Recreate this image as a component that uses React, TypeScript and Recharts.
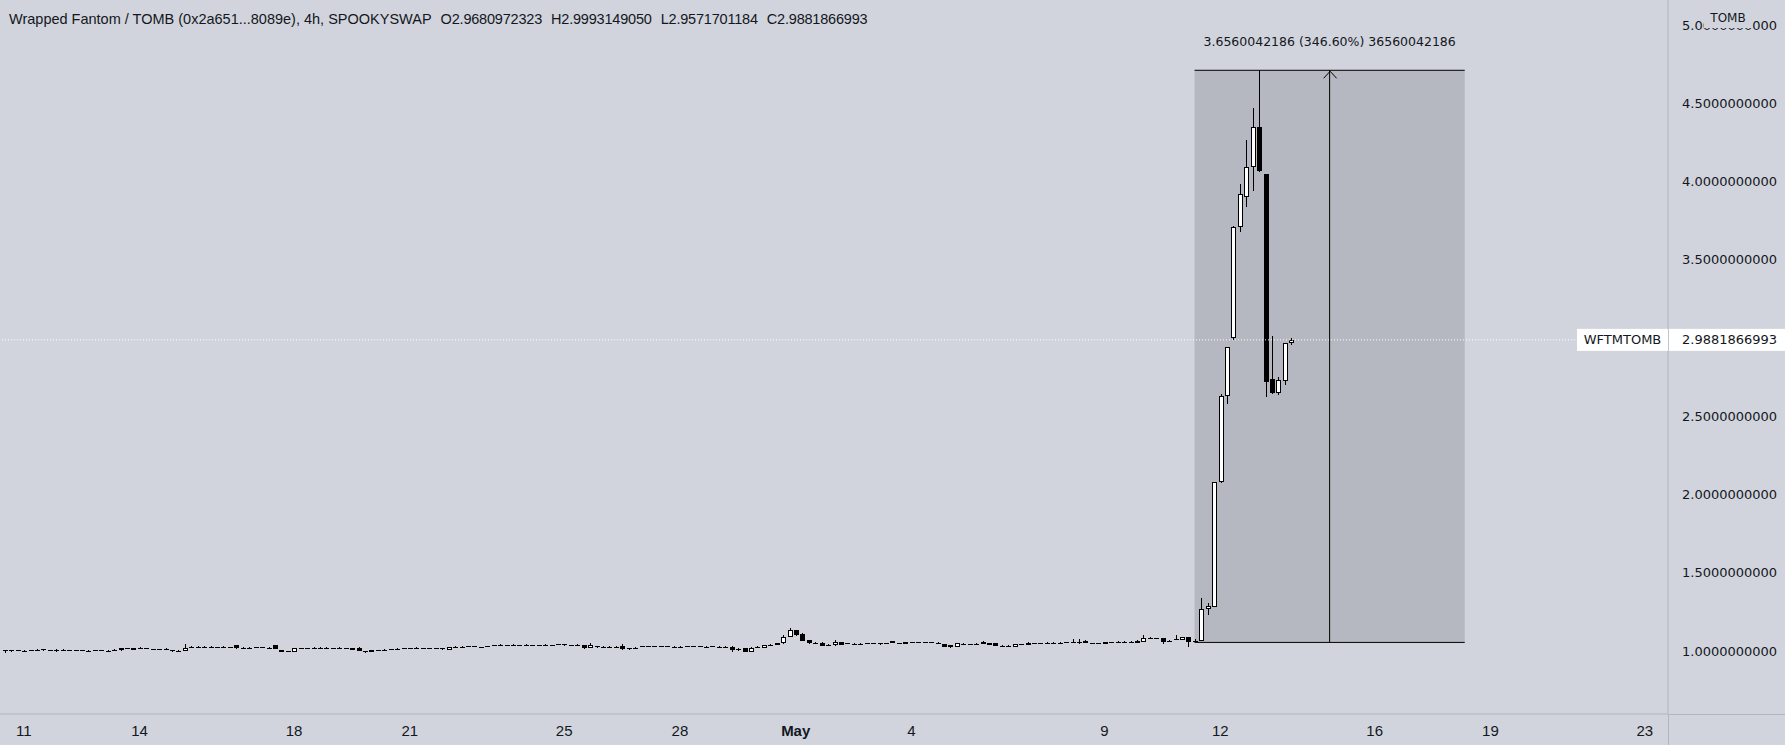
import React from 'react'
import { ComposedChart, Bar, XAxis, YAxis, ReferenceArea, ReferenceLine, ReferenceDot } from 'recharts'

const symbolTitle = 'Wrapped Fantom / TOMB (0x2a651...8089e), 4h, SPOOKYSWAP'
const legendLetters = ['O', 'H', 'L', 'C']
const legendValues = ['2.9680972323', '2.9993149050', '2.9571701184', '2.9881866993']
const lastClose = 2.9881866993
const quoteSymbol = 'TOMB'
const pairSymbol = 'WFTMTOMB'

// 4h candles [open, high, low, close], first one opens Apr 10 12:00
const aprilCandles: number[][] = [
  // Apr 10
  [1.006, 1.007, 0.985, 1.0], [1.002, 1.004, 0.996, 1.004], [1.006, 1.007, 0.999, 1.001],
  // Apr 11
  [1.003, 1.006, 1.0, 1.001], [1.004, 1.006, 1.0, 1.002], [1.003, 1.011, 1.002, 1.006], [1.011, 1.013, 1.002, 1.004], [1.004, 1.006, 1.0, 1.002], [1.002, 1.011, 0.994, 1.004],
  // Apr 12
  [1.003, 1.01, 1.002, 1.005], [1.005, 1.006, 1.001, 1.002], [1.002, 1.009, 1.001, 1.005], [1.006, 1.007, 1.001, 1.002], [1.003, 1.005, 1.0, 1.001], [1.001, 1.009, 1.0, 1.004],
  // Apr 13
  [1.005, 1.006, 1.0, 1.001], [1.002, 1.004, 0.999, 1.0], [1.001, 1.01, 1.0, 1.005], [1.004, 1.019, 1.003, 1.016], [1.016, 1.018, 1.01, 1.012], [1.007, 1.022, 1.006, 1.02],
  // Apr 14
  [1.016, 1.023, 1.014, 1.018], [1.018, 1.019, 1.012, 1.013], [1.013, 1.015, 1.008, 1.009], [1.01, 1.012, 1.006, 1.008], [1.008, 1.016, 1.007, 1.011], [1.006, 1.008, 0.996, 0.999],
  // Apr 15
  [0.998, 1.006, 0.996, 1.001], [1.001, 1.045, 1.0, 1.021], [1.021, 1.032, 1.02, 1.026], [1.027, 1.029, 1.022, 1.024], [1.024, 1.031, 1.023, 1.027], [1.028, 1.029, 1.023, 1.025],
  // Apr 16
  [1.025, 1.028, 1.024, 1.027], [1.028, 1.029, 1.024, 1.025], [1.025, 1.028, 1.024, 1.027], [1.038, 1.04, 1.015, 1.017], [1.02, 1.024, 1.016, 1.019], [1.019, 1.027, 1.018, 1.022],
  // Apr 17
  [1.022, 1.028, 1.021, 1.024], [1.025, 1.026, 1.019, 1.021], [1.022, 1.024, 1.017, 1.019], [1.036, 1.038, 1.011, 1.013], [1.004, 1.006, 0.994, 0.996], [0.998, 1.0, 0.993, 0.995],
  // Apr 18
  [0.996, 1.018, 0.995, 1.017], [1.02, 1.022, 1.015, 1.017], [1.017, 1.021, 1.016, 1.019], [1.018, 1.026, 1.017, 1.021], [1.02, 1.027, 1.019, 1.022], [1.022, 1.023, 1.017, 1.018],
  // Apr 19
  [1.019, 1.02, 1.015, 1.016], [1.016, 1.024, 1.015, 1.019], [1.02, 1.021, 1.016, 1.017], [1.007, 1.022, 1.006, 1.021], [1.021, 1.023, 1.001, 1.002], [1.002, 1.003, 0.985, 0.991],
  // Apr 20
  [0.993, 1.008, 0.992, 1.004], [1.006, 1.007, 1.001, 1.003], [1.003, 1.012, 1.002, 1.007], [1.012, 1.014, 1.008, 1.01], [1.01, 1.018, 1.009, 1.013], [1.014, 1.022, 1.013, 1.017],
  // Apr 21
  [1.017, 1.019, 1.015, 1.018], [1.017, 1.024, 1.016, 1.019], [1.02, 1.021, 1.015, 1.016], [1.017, 1.018, 1.012, 1.014], [1.014, 1.021, 1.013, 1.017], [1.018, 1.019, 1.008, 1.012],
  // Apr 22
  [1.009, 1.025, 1.008, 1.024], [1.024, 1.033, 1.023, 1.027], [1.027, 1.029, 1.025, 1.028], [1.027, 1.034, 1.026, 1.029], [1.03, 1.031, 1.025, 1.026], [1.027, 1.028, 1.023, 1.024],
  // Apr 23
  [1.025, 1.033, 1.024, 1.029], [1.036, 1.038, 1.032, 1.034], [1.034, 1.042, 1.033, 1.038], [1.038, 1.04, 1.036, 1.039], [1.041, 1.042, 1.036, 1.037], [1.038, 1.039, 1.034, 1.035],
  // Apr 24
  [1.035, 1.043, 1.034, 1.039], [1.04, 1.041, 1.035, 1.036], [1.037, 1.04, 1.036, 1.039], [1.04, 1.042, 1.036, 1.037], [1.037, 1.041, 1.036, 1.04], [1.039, 1.047, 1.038, 1.042],
  // Apr 25
  [1.045, 1.046, 1.035, 1.036], [1.037, 1.04, 1.031, 1.033], [1.033, 1.046, 1.032, 1.04], [1.038, 1.04, 1.015, 1.017], [1.017, 1.049, 1.016, 1.038], [1.031, 1.032, 1.022, 1.028],
  // Apr 26
  [1.028, 1.029, 1.023, 1.025], [1.025, 1.029, 1.024, 1.027], [1.026, 1.033, 1.025, 1.028], [1.032, 1.045, 1.009, 1.011], [1.012, 1.022, 1.008, 1.017], [1.017, 1.026, 1.016, 1.02],
  // Apr 27
  [1.03, 1.031, 1.025, 1.027], [1.027, 1.035, 1.026, 1.03], [1.031, 1.032, 1.026, 1.027], [1.027, 1.031, 1.026, 1.029], [1.03, 1.031, 1.026, 1.027], [1.028, 1.029, 1.024, 1.025],
  // Apr 28
  [1.025, 1.033, 1.024, 1.028], [1.029, 1.03, 1.025, 1.026], [1.026, 1.034, 1.025, 1.029], [1.03, 1.031, 1.025, 1.026], [1.027, 1.029, 1.02, 1.028], [1.029, 1.03, 1.024, 1.025],
  // Apr 29
  [1.025, 1.029, 1.024, 1.027], [1.028, 1.029, 1.024, 1.025], [1.027, 1.029, 0.996, 1.006], [1.006, 1.016, 1.002, 1.011], [1.017, 1.018, 0.994, 0.996], [0.996, 1.023, 0.995, 1.021],
  // Apr 30
  [1.021, 1.034, 1.02, 1.027], [1.021, 1.038, 1.02, 1.036], [1.036, 1.045, 1.031, 1.038], [1.038, 1.05, 1.037, 1.049], [1.049, 1.102, 1.047, 1.088], [1.091, 1.147, 1.089, 1.134],
]

const mayCandles: number[][] = [
  // May 1
  [1.134, 1.137, 1.096, 1.102], [1.109, 1.117, 1.064, 1.066], [1.07, 1.072, 1.047, 1.049], [1.05, 1.06, 1.046, 1.053], [1.053, 1.055, 1.032, 1.034], [1.034, 1.044, 1.03, 1.038],
  // May 2
  [1.036, 1.07, 1.035, 1.058], [1.056, 1.058, 1.038, 1.04], [1.05, 1.051, 1.045, 1.046], [1.047, 1.048, 1.042, 1.044], [1.044, 1.052, 1.043, 1.047], [1.048, 1.049, 1.043, 1.045],
  // May 3
  [1.049, 1.05, 1.042, 1.043], [1.046, 1.049, 1.04, 1.048], [1.048, 1.051, 1.046, 1.049], [1.062, 1.063, 1.048, 1.049], [1.05, 1.052, 1.045, 1.046], [1.043, 1.059, 1.042, 1.058],
  // May 4
  [1.056, 1.058, 1.054, 1.057], [1.056, 1.058, 1.05, 1.057], [1.057, 1.059, 1.055, 1.056], [1.055, 1.057, 1.049, 1.056], [1.054, 1.056, 1.042, 1.043], [1.045, 1.046, 1.025, 1.027],
  // May 5
  [1.038, 1.04, 1.022, 1.024], [1.027, 1.05, 1.026, 1.049], [1.044, 1.052, 1.043, 1.046], [1.045, 1.047, 1.038, 1.044], [1.043, 1.05, 1.042, 1.045], [1.056, 1.064, 1.042, 1.043],
  // May 6
  [1.049, 1.051, 1.037, 1.038], [1.049, 1.05, 1.031, 1.032], [1.031, 1.039, 1.03, 1.033], [1.032, 1.04, 1.031, 1.034], [1.024, 1.046, 1.023, 1.045], [1.045, 1.047, 1.043, 1.046],
  // May 7
  [1.053, 1.055, 1.039, 1.04], [1.05, 1.052, 1.043, 1.045], [1.046, 1.054, 1.045, 1.049], [1.048, 1.055, 1.047, 1.05], [1.049, 1.056, 1.048, 1.051], [1.053, 1.055, 1.042, 1.043],
  // May 8
  [1.058, 1.06, 1.048, 1.049], [1.055, 1.075, 1.054, 1.059], [1.058, 1.075, 1.043, 1.06], [1.066, 1.068, 1.048, 1.049], [1.048, 1.051, 1.047, 1.05], [1.049, 1.051, 1.043, 1.05],
  // May 9
  [1.056, 1.058, 1.042, 1.043], [1.058, 1.06, 1.048, 1.049], [1.052, 1.061, 1.051, 1.056], [1.055, 1.063, 1.054, 1.058], [1.056, 1.064, 1.055, 1.059], [1.066, 1.068, 1.048, 1.05],
  // May 10
  [1.056, 1.102, 1.055, 1.081], [1.08, 1.088, 1.074, 1.082], [1.082, 1.084, 1.08, 1.081], [1.081, 1.083, 1.043, 1.059], [1.062, 1.07, 1.061, 1.066], [1.071, 1.102, 1.07, 1.075],
  // May 11
  [1.072, 1.09, 1.071, 1.088], [1.088, 1.09, 1.027, 1.059], [1.062, 1.075, 1.061, 1.066], [1.066, 1.339, 1.062, 1.266], [1.266, 1.309, 1.23, 1.286], [1.283, 2.08, 1.28, 2.078],
  // May 12
  [2.078, 2.642, 2.075, 2.629], [2.629, 2.945, 2.578, 2.941], [2.998, 3.715, 2.99, 3.709], [3.707, 3.982, 3.679, 3.918], [3.903, 4.265, 3.839, 4.091], [4.091, 4.468, 3.941, 4.346],
  // May 13
  [4.346, 4.7108, 4.06, 4.069], [4.046, 4.05, 2.625, 2.721], [2.736, 3.013, 2.645, 2.65], [2.65, 2.753, 2.636, 2.732], [2.727, 2.97, 2.7, 2.966], [2.9681, 2.9993, 2.9572, 2.9882],
]

// candle index of each day's 00:00 bar
const dayTickIdx = [3, 21, 45, 63, 87, 105, 123, 141, 171, 189, 213, 231, 255]
const dayTickLabels = ['11', '14', '18', '21', '25', '28', 'May', '4', '9', '12', '16', '19', '23']
// 3.0 sits under the last-price tag, so it is not shown
const priceTicks = [1, 1.5, 2, 2.5, 3.5, 4, 4.5, 5]

// price range measurement: from / to candle index and price
const measureIdx = [185, 227]
const measurePrice = [1.0548, 4.7108]
const measureText = '3.6560042186 (346.60%) 36560042186'

const xDomain = [-0.7, 258.6]
const yDomain = [0.5974, 5.16]

const BG = '#d1d4dc'
const LINE = '#b2b5be'
const TEXT = '#131722'
const SANS = 'Liberation Sans, Arial, sans-serif'
const AXIS_FONT = 'DejaVu Sans, Verdana, sans-serif'

const chartData = [...aprilCandles, ...mayCandles].map(([open, high, low, close], idx) => ({
  idx,
  open,
  high,
  low,
  close,
  range: [low, high],
}))

function Candle(props: any) {
  const { x, y, width, height, payload } = props
  if (!payload) return null
  const { open, high, low, close } = payload
  const top = Math.min(y, y + height)
  const span = Math.abs(height)
  const toY = (v: number) => (high === low ? top : top + ((high - v) / (high - low)) * span)
  const cx = Math.round(x + width / 2)
  const yo = toY(open)
  const yc = toY(close)
  const r1 = Math.round(Math.min(yo, yc))
  const r2 = Math.round(Math.max(yo, yc))
  const up = close >= open
  return (
    <g>
      <line x1={cx + 0.5} x2={cx + 0.5} y1={Math.round(top)} y2={Math.round(top + span)} stroke="#000" strokeWidth={1} />
      {r2 - r1 < 2 ? (
        <rect x={cx - 2} y={r1} width={5} height={Math.max(r2 - r1, 1)} fill="#000" />
      ) : (
        <rect x={cx - 1.5} y={r1 + 0.5} width={4} height={r2 - r1 - 1} fill={up ? '#fff' : '#000'} stroke="#000" strokeWidth={1} />
      )}
    </g>
  )
}

function DayTick(props: any) {
  const { x, y, payload } = props
  const k = dayTickIdx.indexOf(payload.value)
  const label = k >= 0 ? dayTickLabels[k] : ''
  return (
    <text x={x} y={y} dy={22} textAnchor="middle" fill={TEXT} fontSize={15} fontFamily={SANS} fontWeight={label === 'May' ? 700 : 400}>
      {label}
    </text>
  )
}

function PriceTag(props: any) {
  const { cx, cy } = props
  return (
    <g>
      <rect x={cx - 91} y={cy - 11} width={91} height={22} fill="#fff" />
      <text x={cx - 45.5} y={cy} dy={4.6} textAnchor="middle" fill={TEXT} fontSize={13} fontFamily={AXIS_FONT}>
        {pairSymbol}
      </text>
      <rect x={cx + 1} y={cy - 11} width={116} height={22} fill="#fff" />
      <text x={cx + 14} y={cy} dy={4.6} fill={TEXT} fontSize={13} fontFamily={AXIS_FONT}>
        {lastClose.toFixed(10)}
      </text>
    </g>
  )
}

function ArrowHead(props: any) {
  const { cx, cy } = props
  return <path d={`M${cx - 6},${cy + 8} L${cx + 0.5},${cy + 1} L${cx + 7},${cy + 8}`} fill="none" stroke="#000" strokeWidth={1} />
}

export default function App() {
  return (
    <div style={{ position: 'absolute', left: 0, top: 0, width: 1785, height: 745, background: BG, overflow: 'hidden' }}>
      <ComposedChart width={1785} height={745} data={chartData} margin={{ top: 0, right: 0, bottom: 0, left: 0 }}>
        <XAxis
          dataKey="idx"
          type="number"
          scale="linear"
          domain={xDomain}
          allowDataOverflow
          ticks={dayTickIdx}
          interval={0}
          tick={<DayTick />}
          tickLine={false}
          tickSize={0}
          tickMargin={0}
          axisLine={{ stroke: LINE }}
          height={31}
        />
        <YAxis
          orientation="right"
          type="number"
          domain={yDomain}
          allowDataOverflow
          ticks={priceTicks}
          interval={0}
          tickFormatter={(v: number) => v.toFixed(10)}
          tick={{ fill: TEXT, fontSize: 13, fontFamily: AXIS_FONT }}
          tickLine={false}
          tickMargin={8}
          axisLine={{ stroke: LINE }}
          width={117}
        />
        <ReferenceArea
          x1={measureIdx[0]}
          x2={measureIdx[1]}
          y1={measurePrice[0]}
          y2={measurePrice[1]}
          fill="#b5b8c1"
          fillOpacity={1}
          stroke="none"
          label={{ value: measureText, position: 'top', offset: 24, fill: TEXT, fontSize: 12.5, fontFamily: AXIS_FONT }}
        />
        <ReferenceLine
          segment={[{ x: measureIdx[0], y: measurePrice[1] }, { x: measureIdx[1], y: measurePrice[1] }]}
          stroke="#000"
          strokeWidth={1}
        />
        <ReferenceLine
          segment={[{ x: measureIdx[0], y: measurePrice[0] }, { x: measureIdx[1], y: measurePrice[0] }]}
          stroke="#000"
          strokeWidth={1}
        />
        <ReferenceLine
          segment={[
            { x: (measureIdx[0] + measureIdx[1]) / 2, y: measurePrice[0] },
            { x: (measureIdx[0] + measureIdx[1]) / 2, y: measurePrice[1] },
          ]}
          stroke="#000"
          strokeWidth={1}
        />
        <ReferenceDot x={(measureIdx[0] + measureIdx[1]) / 2} y={measurePrice[1]} shape={ArrowHead} />
        <ReferenceLine y={lastClose} stroke="#ffffff" strokeDasharray="1 2" strokeWidth={1} />
        <Bar dataKey="range" barSize={5} shape={Candle} isAnimationActive={false} />
        <ReferenceDot x={xDomain[1]} y={lastClose} shape={PriceTag} />
      </ComposedChart>
      <div style={{ position: 'absolute', left: 1668, top: 714, width: 1, height: 31, background: LINE }} />
      <div style={{ position: 'absolute', left: 1668, top: 714, width: 117, height: 1, background: LINE }} />
      <div
        style={{
          position: 'absolute',
          left: 1704,
          top: 8,
          width: 48,
          height: 20,
          background: BG,
          color: TEXT,
          fontFamily: AXIS_FONT,
          fontSize: 12,
          lineHeight: '20px',
          textAlign: 'center',
        }}
      >
        {quoteSymbol}
      </div>
      <div
        style={{
          position: 'absolute',
          left: 9,
          top: 9,
          fontFamily: SANS,
          fontSize: 14.5,
          lineHeight: '20px',
          color: TEXT,
          whiteSpace: 'nowrap',
        }}
      >
        <span>{symbolTitle}</span>
        {legendLetters.map((l, i) => (
          <span key={l} style={{ marginLeft: 9, letterSpacing: -0.2 }}>
            {l}
            {legendValues[i]}
          </span>
        ))}
      </div>
    </div>
  )
}
